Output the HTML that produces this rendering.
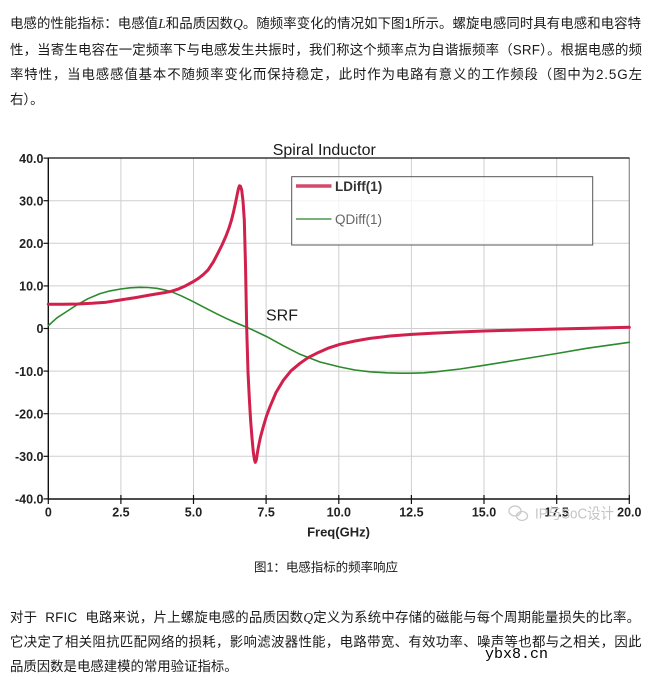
<!DOCTYPE html>
<html><head><meta charset="utf-8"><style>
html,body{margin:0;padding:0;background:#fff;}
svg{display:block;}
.cn{font-family:"Liberation Sans","Noto Sans CJK SC",sans-serif;font-size:13.4px;fill:#1a1a1a;white-space:pre;}
.ax{font-family:"Liberation Sans",Arial,sans-serif;font-size:12.5px;font-weight:bold;fill:#222;}
</style></head><body>
<svg width="664" height="683" viewBox="0 0 664 683" xmlns="http://www.w3.org/2000/svg">
<rect width="664" height="683" fill="#fff"/>
<!-- top paragraph -->
<text class="cn" x="10" y="27.8" textLength="631" lengthAdjust="spacing">电感的性能指标：电感值<tspan font-family="Liberation Serif" font-style="italic">L</tspan>和品质因数<tspan font-family="Liberation Serif" font-style="italic">Q</tspan>。随频率变化的情况如下图1所示。螺旋电感同时具有电感和电容特</text>
<text class="cn" x="10" y="54.4" textLength="632" lengthAdjust="spacing">性，当寄生电容在一定频率下与电感发生共振时，我们称这个频率点为自谐振频率（SRF）。根据电感的频</text>
<text class="cn" x="10" y="79.1" textLength="632" lengthAdjust="spacing">率特性，当电感感值基本不随频率变化而保持稳定，此时作为电路有意义的工作频段（图中为2.5G左</text>
<text class="cn" x="10" y="104.1">右）。</text>

<!-- chart -->
<g stroke="#cfcfcf" stroke-width="1">
<line x1="120.9" y1="158" x2="120.9" y2="499"/>
<line x1="193.5" y1="158" x2="193.5" y2="499"/>
<line x1="266.1" y1="158" x2="266.1" y2="499"/>
<line x1="338.8" y1="158" x2="338.8" y2="499"/>
<line x1="411.4" y1="158" x2="411.4" y2="499"/>
<line x1="484" y1="158" x2="484" y2="499"/>
<line x1="556.7" y1="158" x2="556.7" y2="499"/>
<line x1="48.3" y1="200.7" x2="629.3" y2="200.7"/>
<line x1="48.3" y1="243.3" x2="629.3" y2="243.3"/>
<line x1="48.3" y1="285.9" x2="629.3" y2="285.9"/>
<line x1="48.3" y1="328.5" x2="629.3" y2="328.5"/>
<line x1="48.3" y1="371.1" x2="629.3" y2="371.1"/>
<line x1="48.3" y1="413.7" x2="629.3" y2="413.7"/>
<line x1="48.3" y1="456.3" x2="629.3" y2="456.3"/>
</g>
<line x1="629.3" y1="158" x2="629.3" y2="499" stroke="#8a8a8a" stroke-width="1.2"/>
<line x1="48" y1="158" x2="629.5" y2="158" stroke="#111" stroke-width="1.2"/>
<line x1="48.3" y1="157.5" x2="48.3" y2="499.5" stroke="#111" stroke-width="1.4"/>
<line x1="47.5" y1="499" x2="630" y2="499" stroke="#111" stroke-width="1.4"/>
<!-- ticks -->
<g stroke="#111" stroke-width="1.2">
<line x1="43.5" y1="158.1" x2="48.3" y2="158.1"/>
<line x1="43.5" y1="200.7" x2="48.3" y2="200.7"/>
<line x1="43.5" y1="243.3" x2="48.3" y2="243.3"/>
<line x1="43.5" y1="285.9" x2="48.3" y2="285.9"/>
<line x1="43.5" y1="328.5" x2="48.3" y2="328.5"/>
<line x1="43.5" y1="371.1" x2="48.3" y2="371.1"/>
<line x1="43.5" y1="413.7" x2="48.3" y2="413.7"/>
<line x1="43.5" y1="456.3" x2="48.3" y2="456.3"/>
<line x1="43.5" y1="498.9" x2="48.3" y2="498.9"/>
<line x1="48.3" y1="499" x2="48.3" y2="504"/>
<line x1="120.9" y1="495" x2="120.9" y2="504"/>
<line x1="193.5" y1="495" x2="193.5" y2="504"/>
<line x1="266.1" y1="495" x2="266.1" y2="504"/>
<line x1="338.8" y1="495" x2="338.8" y2="504"/>
<line x1="411.4" y1="495" x2="411.4" y2="504"/>
<line x1="484" y1="495" x2="484" y2="504"/>
<line x1="556.7" y1="495" x2="556.7" y2="504"/>
<line x1="629.3" y1="495" x2="629.3" y2="504"/>
</g>
<!-- y labels -->
<g class="ax" text-anchor="end">
<text x="43.5" y="162.8">40.0</text>
<text x="43.5" y="205.4">30.0</text>
<text x="43.5" y="248">20.0</text>
<text x="43.5" y="290.6">10.0</text>
<text x="43.5" y="333.2">0</text>
<text x="43.5" y="375.8">-10.0</text>
<text x="43.5" y="418.4">-20.0</text>
<text x="43.5" y="461">-30.0</text>
<text x="43.5" y="503.6">-40.0</text>
</g>
<!-- x labels -->
<g class="ax" text-anchor="middle">
<text x="48.3" y="516.3">0</text>
<text x="120.9" y="516.3">2.5</text>
<text x="193.5" y="516.3">5.0</text>
<text x="266.1" y="516.3">7.5</text>
<text x="338.8" y="516.3">10.0</text>
<text x="411.4" y="516.3">12.5</text>
<text x="484" y="516.3">15.0</text>
<text x="556.7" y="516.3">17.5</text>
<text x="629.3" y="516.3">20.0</text>
</g>
<text x="338.5" y="536.3" text-anchor="middle" style="font-family:'Liberation Sans',Arial,sans-serif;font-size:13px;font-weight:bold;fill:#222">Freq(GHz)</text>
<text x="272.7" y="155" style="font-family:'Liberation Sans',Arial,sans-serif;font-size:16px;fill:#1a1a1a">Spiral Inductor</text>
<text x="266" y="320.7" style="font-family:'Liberation Sans',Arial,sans-serif;font-size:16px;fill:#1a1a1a">SRF</text>

<!-- Q curve -->
<polyline fill="none" stroke="#2b8a2b" stroke-width="1.6" stroke-linejoin="round" stroke-linecap="round" points="48.5,325.5 57,317.8 66.7,311.5 76.7,305 88,298.7 100,293.6 110,290.9 120.7,289 130,287.8 140,287.3 148,287.5 156.7,288.3 164,289.8 171.7,291.8 182,296.2 193.3,301.7 205,307.8 216.7,313.8 226,318.3 233.3,321.6 240,324.5 246.7,327.3 256,331.5 266.7,336.6 283,345.6 300,354.3 320,362 340,367 355,370 370,371.8 386.7,372.8 400,373.2 411.7,373.2 424,372.8 436.7,371.7 460,369 484,365.3 520,359.5 556.7,353.5 586.7,348.3 629.3,342.3"/>
<!-- L curve -->
<polyline fill="none" stroke="#d1204c" stroke-width="3" stroke-linejoin="round" stroke-linecap="round" points="48.3,304.3 63,304.2 77.4,304 92,303.3 106.4,302.2 120.9,299.9 135.5,297.6 150,295 164.5,292.6 171.7,291.2 179,288.8 186,285.6 193.5,281.5 198.5,278.3 203.3,274.6 208,270 213.3,262 218,253 222,245 226,236 229,228 231.5,220 233.5,212 235.5,203 237.3,194 238.5,188.5 239.4,185.8 240.5,186.3 241.7,190 243,201 244.3,220 245.5,265 246.7,328 248,372 249.3,398 250.6,420 252,438 253.3,452 254.5,460 255.3,462.3 256.3,460 257.3,453.5 258.5,446.5 260.5,437 263.3,426.7 266.5,416 270,406.7 276,392.5 283.3,380.3 291,370.8 300,363.3 308,357.7 316.7,353.3 328,348.2 340,344.3 355,341 370,338.4 390,336 411.7,334.4 432,333.2 453.3,332.3 484,331 520,330 556.7,329 590,328.2 629.3,327.3"/>

<!-- legend -->
<rect x="291.7" y="176.7" width="301" height="68.3" fill="#fff" fill-opacity="0.75" stroke="#555" stroke-width="1"/>
<line x1="296" y1="186" x2="331.5" y2="186" stroke="#d44a6c" stroke-width="3.5"/>
<line x1="296" y1="219" x2="331.5" y2="219" stroke="#4f974f" stroke-width="1.4"/>
<text x="335" y="190.8" style="font-family:'Liberation Sans',Arial,sans-serif;font-size:13.5px;font-weight:bold;fill:#333">LDiff(1)</text>
<text x="335" y="223.8" style="font-family:'Liberation Sans',Arial,sans-serif;font-size:13.5px;fill:#666">QDiff(1)</text>

<!-- watermark -->
<g fill="none" stroke="#c9c9c9" stroke-width="1.3">
<ellipse cx="515" cy="511" rx="6" ry="5"/>
<ellipse cx="522" cy="516" rx="5.5" ry="4.5"/>
</g>
<text x="535" y="518.5" style="font-family:'Liberation Sans','Noto Sans CJK SC',sans-serif;font-size:15px;fill:#c4c4c4" textLength="79" lengthAdjust="spacingAndGlyphs">IP与SoC设计</text>

<!-- caption -->
<text class="cn" x="254" y="571.5" style="font-size:12.5px" textLength="144" lengthAdjust="spacing">图1：电感指标的频率响应</text>

<!-- bottom paragraph -->
<text class="cn" x="10" y="622" textLength="630" lengthAdjust="spacing">对于  RFIC  电路来说，片上螺旋电感的品质因数<tspan font-family="Liberation Serif" font-style="italic">Q</tspan>定义为系统中存储的磁能与每个周期能量损失的比率。</text>
<text class="cn" x="10" y="646.3" textLength="631.5" lengthAdjust="spacing">它决定了相关阻抗匹配网络的损耗，影响滤波器性能，电路带宽、有效功率、噪声等也都与之相关，因此</text>
<text x="485" y="658" style="font-family:'Liberation Mono',monospace;font-size:15px;fill:#000" textLength="63" lengthAdjust="spacingAndGlyphs">ybx8.cn</text>
<text class="cn" x="10" y="671.2">品质因数是电感建模的常用验证指标。</text>
</svg>
</body></html>
